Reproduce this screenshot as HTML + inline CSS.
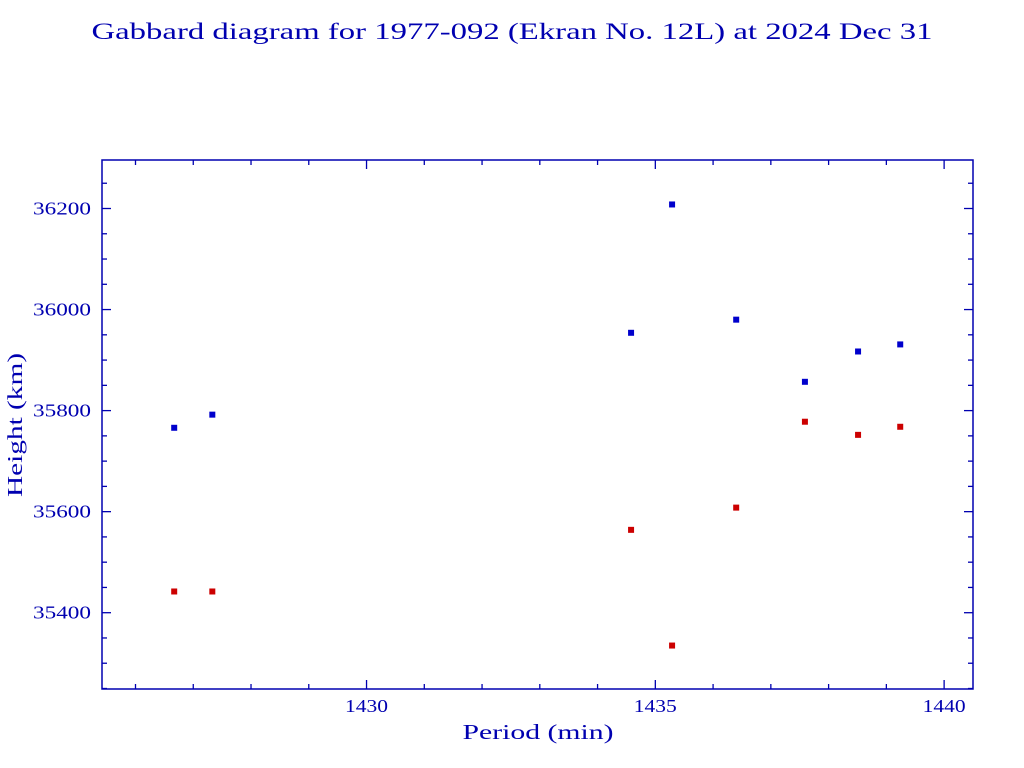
<!DOCTYPE html>
<html><head><meta charset="utf-8"><style>body{margin:0;background:#fff}svg{display:block}</style></head>
<body>
<svg id="chart" width="1024" height="768" xmlns="http://www.w3.org/2000/svg" font-family="'Liberation Serif', serif" fill="#0000b0">
<text x="512" y="39" text-anchor="middle" font-size="23" textLength="841" lengthAdjust="spacingAndGlyphs">Gabbard diagram for 1977-092 (Ekran No. 12L) at 2024 Dec 31</text>
<rect x="102" y="160" width="871" height="529" fill="none" stroke="#0000b0" stroke-width="1.5"/>
<g id="ticks"></g>
<g id="marks"></g>
<text x="538" y="739" text-anchor="middle" font-size="21" textLength="151" lengthAdjust="spacingAndGlyphs">Period (min)</text>
<text transform="translate(22,425) rotate(-90)" text-anchor="middle" font-size="21" textLength="144" lengthAdjust="spacingAndGlyphs">Height (km)</text>
</svg>
<script>
const periods = [1426.67, 1427.33, 1434.58, 1435.29, 1436.40, 1437.59, 1438.51, 1439.24];
const apogees = [35766, 35792, 35954, 36208, 35980, 35857, 35917, 35931];
const perigees = [35442, 35442, 35564, 35335, 35608, 35778, 35752, 35768];
const xTickLabels = [1430, 1435, 1440];
const yTickLabels = [35400, 35600, 35800, 36000, 36200];

const X0=102,X1=973,Y0=689,Y1=160;
const xMin=1425.42,xMax=1440.5,yMin=35249,yMax=36296;
const sx=v=>X0+(v-xMin)/(xMax-xMin)*(X1-X0);
const sy=v=>Y0-(v-yMin)/(yMax-yMin)*(Y0-Y1);
const NS="http://www.w3.org/2000/svg";
const tg=document.getElementById('ticks'), mg=document.getElementById('marks');
function line(x1,y1,x2,y2){const l=document.createElementNS(NS,'line');l.setAttribute('x1',x1);l.setAttribute('y1',y1);l.setAttribute('x2',x2);l.setAttribute('y2',y2);l.setAttribute('stroke','#0000b0');l.setAttribute('stroke-width','1.3');


tg.appendChild(l);}
for(let p=Math.ceil(xMin);p<=xMax;p++){const x=sx(p),len=p%5===0?9:5;line(x,Y0,x,Y0-len);line(x,Y1,x,Y1+len);}
for(let h=Math.ceil(yMin/50)*50;h<=yMax;h+=50){const y=sy(h),len=h%200===0?9:5;line(X0,y,X0+len,y);line(X1,y,X1-len,y);}
xTickLabels.forEach(v=>{const t=document.createElementNS(NS,'text');t.setAttribute('x',sx(v));t.setAttribute('y',712);t.setAttribute('text-anchor','middle');t.setAttribute('font-size','18');t.setAttribute('textLength','43');t.setAttribute('lengthAdjust','spacingAndGlyphs');t.textContent=v;


tg.appendChild(t);});
yTickLabels.forEach(v=>{const t=document.createElementNS(NS,'text');t.setAttribute('x',91);t.setAttribute('y',sy(v)+6);t.setAttribute('text-anchor','end');t.setAttribute('font-size','18');t.setAttribute('textLength','58');t.setAttribute('lengthAdjust','spacingAndGlyphs');t.textContent=v;


tg.appendChild(t);});
function mark(p,h,c,name){const r=document.createElementNS(NS,'rect');r.setAttribute('x',sx(p)-3);r.setAttribute('y',sy(h)-3);r.setAttribute('width',6);r.setAttribute('height',6);r.setAttribute('fill',c);


mg.appendChild(r);}
periods.forEach((p,i)=>{mark(p,apogees[i],'#0000cc','apogee-point');mark(p,perigees[i],'#cc0000','perigee-point');});
</script>
</body></html>
